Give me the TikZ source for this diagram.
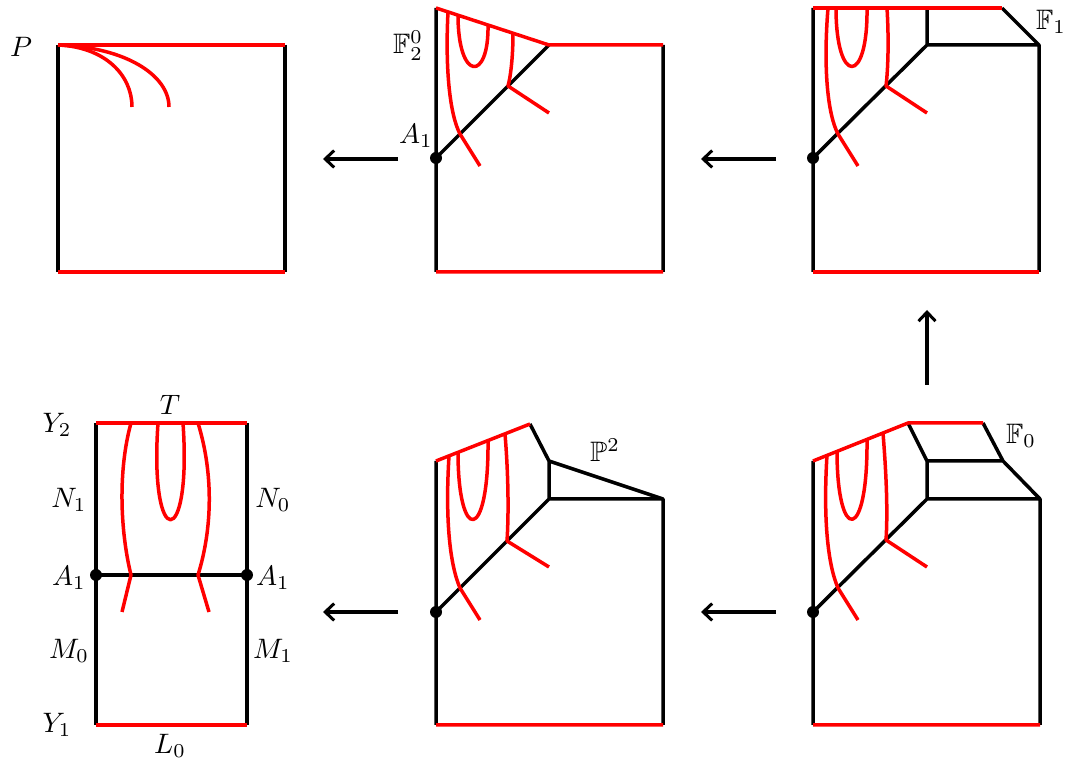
\documentclass[tikz,border=0pt]{standalone}
\usepackage{amssymb}
\usetikzlibrary{arrows.meta}
\begin{document}
\begin{tikzpicture}[x=0.02cm,y=-0.02cm,
  bl/.style={line width=0.07cm,black,line join=round},
  rd/.style={line width=0.07cm,red,line join=round},
  mapto/.style={line width=0.07cm,-{Straight Barb[length=0.18cm,width=0.34cm,line width=0.06cm]}},
  lab/.style={inner sep=0pt,scale=1.6,transform shape},
  dotst/.style={fill=black}]
\useasboundingbox (0,0) rectangle (1065,759);

% ---------- Panel P (top left) ----------
\coordinate (p1) at (58,45); \coordinate (p2) at (285,45);
\coordinate (p3) at (285,272); \coordinate (p4) at (58,272);
\draw[bl] (p1) -- (p4) (p2) -- (p3);
\draw[rd] (p1) -- (p2) (p4) -- (p3);
\coordinate (pa) at (132,107); \coordinate (pb) at (169,107);
\draw[rd] (p1) .. controls (105,47) and (132,75) .. (pa);
\draw[rd] (p1) .. controls (125,47) and (169,75) .. (pb);
\node[lab] (lP) at (21,47) {$P$};

% ---------- Panel F_2^0 (top middle) ----------
\coordinate (a1) at (436,8); \coordinate (a2) at (549,45);
\coordinate (a3) at (663,45); \coordinate (a4) at (663,272);
\coordinate (a5) at (436,272); \coordinate (aA) at (436,158);
\draw[bl] (a1) -- (a5) (a3) -- (a4) (a2) -- (aA);
\draw[rd] (a1) -- (a2) -- (a3) (a5) -- (a4);
\fill[dotst] (aA) circle (0.12cm);
\draw[rd] (448,12) .. controls (445,70) and (450,115) .. (460,134) -- (480,166);
\draw[rd] (458,15) .. controls (458,82) and (489,82) .. (488,25);
\draw[rd] (513,33) .. controls (513,55) and (511,75) .. (508,86) -- (549,113);
\node[lab] (lF20) at (408,46) {$\mathbb{F}_2^0$};
\node[lab] (lA1t) at (416,136) {$A_1$};

% ---------- Panel F_1 (top right) ----------
\coordinate (b1) at (813,8); \coordinate (b2) at (927,8);
\coordinate (b3) at (1002,8); \coordinate (b4) at (1039,45);
\coordinate (b5) at (927,45); \coordinate (b6) at (1039,272);
\coordinate (b7) at (813,272); \coordinate (bA) at (813,158);
\draw[bl] (b1) -- (b7) (b3) -- (b4) -- (b6) (b2) -- (b5) -- (b4) (b5) -- (bA);
\draw[rd] (b1) -- (b3) (b7) -- (b6);
\fill[dotst] (bA) circle (0.12cm);
\draw[rd] (828,8) .. controls (823,70) and (828,115) .. (838,134) -- (858,166);
\draw[rd] (836,8) .. controls (836,86) and (868,86) .. (867,8);
\draw[rd] (887,8) .. controls (889,40) and (888,70) .. (886,86) -- (927,113);
\node[lab] (lF1) at (1051,22) {$\mathbb{F}_1$};

% ---------- Panel P^2 (bottom middle) ----------
\coordinate (c1) at (436,461); \coordinate (c2) at (530,424);
\coordinate (c3) at (549,461); \coordinate (c4) at (663,499);
\coordinate (c5) at (549,499); \coordinate (c6) at (663,725);
\coordinate (c7) at (436,725); \coordinate (cA) at (436,612);
\draw[bl] (c1) -- (c7) (c2) -- (c3) -- (c5) -- (c4) (c3) -- (c4) -- (c6) (c5) -- (cA);
\draw[rd] (c1) -- (c2) (c7) -- (c6);
\fill[dotst] (cA) circle (0.12cm);
\draw[rd] (449,456) .. controls (445,520) and (450,565) .. (460,588) -- (480,620);
\draw[rd] (458,452) .. controls (458,544) and (489,544) .. (488,440);
\draw[rd] (505,434) .. controls (508,470) and (509,510) .. (507,541) -- (549,567);
\node[lab] (lP2) at (605,450) {$\mathbb{P}^2$};

% ---------- Panel F_0 (bottom right) ----------
\coordinate (d1) at (813,461); \coordinate (d2) at (908,423);
\coordinate (d3) at (983,423); \coordinate (d4) at (1003,461);
\coordinate (d5) at (927,461); \coordinate (d6) at (927,499);
\coordinate (d7) at (1040,499); \coordinate (d8) at (1040,725);
\coordinate (d9) at (813,725); \coordinate (dA) at (813,612);
\draw[bl] (d1) -- (d9) (d3) -- (d4) -- (d7) -- (d8) (d2) -- (d5) -- (d6) -- (d7)
  (d5) -- (d4) (d6) -- (dA);
\draw[rd] (d1) -- (d2) -- (d3) (d9) -- (d8);
\fill[dotst] (dA) circle (0.12cm);
\draw[rd] (827,455) .. controls (823,520) and (828,565) .. (838,588) -- (858,620);
\draw[rd] (837,451) .. controls (837,544) and (868,544) .. (867,439);
\draw[rd] (883,433) .. controls (886,470) and (888,510) .. (886,540) -- (927,567);
\node[lab] (lF0) at (1021,436) {$\mathbb{F}_0$};

% ---------- Panel bottom left ----------
\coordinate (e1) at (96,423); \coordinate (e2) at (247,423);
\coordinate (e3) at (247,725); \coordinate (e4) at (96,725);
\coordinate (eL) at (96,575); \coordinate (eR) at (247,575);
\draw[bl] (e1) -- (e4) (e2) -- (e3) (eL) -- (eR);
\draw[rd] (e1) -- (e2) (e4) -- (e3);
\fill[dotst] (eL) circle (0.12cm);
\fill[dotst] (eR) circle (0.12cm);
\draw[rd] (131,423) .. controls (118,470) and (120,530) .. (131,575) -- (122,612);
\draw[rd] (198,423) .. controls (214,475) and (212,530) .. (198,575) -- (209,612);
\draw[rd] (158,423) .. controls (149,552) and (192,552) .. (183,423);
\node[lab] (lT) at (170,405) {$T$};
\node[lab] (lY2) at (57,425) {$Y_2$};
\node[lab] (lN1) at (69,500) {$N_1$};
\node[lab] (lN0) at (273,500) {$N_0$};
\node[lab] (lA1l) at (69,578) {$A_1$};
\node[lab] (lA1r) at (273,578) {$A_1$};
\node[lab] (lM0) at (69,651) {$M_0$};
\node[lab] (lM1) at (273,651) {$M_1$};
\node[lab] (lY1) at (57,725) {$Y_1$};
\node[lab] (lL0) at (170,746) {$L_0$};

% ---------- Arrows ----------
\coordinate (r1s) at (398,159); \coordinate (r1e) at (323,159);
\coordinate (r2s) at (776,159); \coordinate (r2e) at (701,159);
\coordinate (r3s) at (927,385); \coordinate (r3e) at (927,310);
\coordinate (r4s) at (398,612); \coordinate (r4e) at (323,612);
\coordinate (r5s) at (776,612); \coordinate (r5e) at (701,612);
\draw[mapto] (r1s) -- (r1e);
\draw[mapto] (r2s) -- (r2e);
\draw[mapto] (r3s) -- (r3e);
\draw[mapto] (r4s) -- (r4e);
\draw[mapto] (r5s) -- (r5e);
\end{tikzpicture}
\end{document}
